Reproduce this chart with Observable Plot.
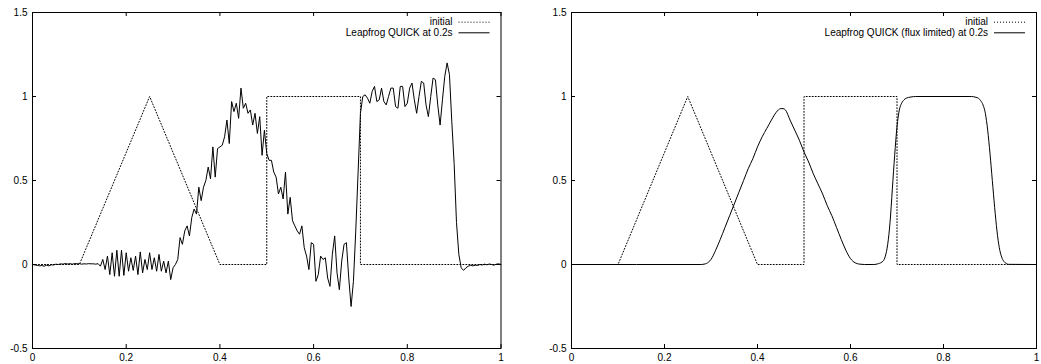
<!DOCTYPE html>
<html><head><meta charset="utf-8">
<script src="https://cdn.jsdelivr.net/npm/d3@7"></script>
<script src="https://cdn.jsdelivr.net/npm/@observablehq/plot@0.6"></script>
<style>
html,body{margin:0;padding:0;background:#fff;}
#wrap{position:relative;width:1041px;height:364px;overflow:hidden;}
.panel{position:absolute;top:0;}
</style></head><body>
<div id="wrap"><div id="p1" class="panel" style="left:0px"></div><div id="p2" class="panel" style="left:520px"></div></div>
<script>
// ---- data ----
const xTicks = [0, 0.2, 0.4, 0.6, 0.8, 1];
const yTicks = [-0.5, 0, 0.5, 1, 1.5];
const xTickLabels = ["0", "0.2", "0.4", "0.6", "0.8", "1"];
const yTickLabels = ["-0.5", "0", "0.5", "1", "1.5"];

const initialX = [0, 0.1, 0.25, 0.4, 0.5, 0.5, 0.7, 0.7, 1];
const initialY = [0, 0, 1, 0, 0, 1, 1, 0, 0];

// Leapfrog QUICK at 0.2s, cell spacing 0.005 (x = 0 .. 1)
const leapStep = 0.005;
const leapY = [
  0,-0.003,-0.005,-0.008,-0.006,-0.01,-0.004,-0.008,-0.002,-0.003,0.002,0,0.004,0.002,0.006,0.003,0.005,0.002,0.006,0.004,0.005,0.002,0.004,0.003,0.005,0.004,0.004,0.002,0.005,
  -0.01,0.03,-0.03,0.05,-0.06,0.07,-0.07,0.085,-0.07,0.085,-0.065,0.07,-0.04,0.04,-0.035,0.05,-0.06,0.075,-0.05,0.03,-0.03,0.07,-0.03,0.04,-0.04,0.06,-0.04,0.02,-0.05,0.02,-0.09,
  -0.02,0.0,0.03,0.16,0.12,0.20,0.23,0.17,0.28,0.33,0.30,0.46,0.38,0.46,0.50,0.58,0.51,0.70,0.52,0.69,
  0.70,0.71,0.76,0.86,0.72,0.97,0.91,0.96,0.87,1.05,0.93,0.96,0.90,0.92,0.83,0.90,0.78,0.88,0.65,0.80,
  0.66,0.62,0.62,0.55,0.52,0.42,0.46,0.39,0.55,0.30,0.40,0.26,0.23,0.20,0.18,0.23,0.10,0.05,-0.03,0.13,
  0.12,-0.10,-0.06,0.05,0.03,0.04,-0.08,-0.13,0.06,0.17,-0.05,-0.15,0.02,0.12,0.13,-0.08,-0.25,-0.1,0.2,0.55,
  0.9,1.0,1.01,0.99,0.96,1.03,1.06,0.97,0.98,1.05,0.97,0.95,1.0,1.05,1.05,0.94,0.93,1.06,1.06,0.94,
  0.96,1.05,1.08,0.98,0.90,1.0,1.09,1.08,0.95,0.88,1.0,1.11,1.10,0.95,0.83,0.98,1.12,1.20,1.13,0.85,
  0.6,0.25,0.06,-0.02,-0.035,-0.02,-0.01,-0.005,
  -0.008,-0.004,-0.006,0,-0.003,0.002,-0.002,0.003,0,-0.004,0.002,0.004,0
];

// Leapfrog QUICK (flux limited) at 0.2s
const fluxX = [0,0.28,0.285,0.29,0.295,0.30,0.305,0.31,0.32,0.33,0.34,0.35,0.36,0.37,0.38,0.39,0.40,0.41,0.42,0.43,0.44,0.45,0.455,0.46,0.47,0.48,0.49,0.50,0.51,0.52,0.53,0.54,0.55,0.56,0.57,0.58,0.59,0.60,0.61,0.62,0.63,0.65,0.66,0.67,0.675,0.68,0.685,0.69,0.695,0.70,0.705,0.71,0.715,0.72,0.73,0.74,0.86,0.87,0.875,0.88,0.885,0.89,0.895,0.90,0.905,0.91,0.915,0.92,0.925,0.93,0.935,0.94,1.0];
const fluxY = [0,0,0.002,0.006,0.015,0.03,0.055,0.085,0.15,0.22,0.29,0.36,0.43,0.50,0.57,0.63,0.70,0.76,0.81,0.86,0.905,0.928,0.928,0.92,0.86,0.80,0.74,0.67,0.61,0.54,0.48,0.42,0.35,0.29,0.22,0.15,0.085,0.035,0.01,0.002,0,0,0.005,0.02,0.05,0.12,0.25,0.45,0.65,0.82,0.92,0.96,0.98,0.99,0.997,1.0,1.0,0.995,0.99,0.975,0.95,0.9,0.8,0.66,0.5,0.34,0.2,0.1,0.045,0.018,0.006,0.001,0];

const legendLabels1 = ["initial", "Leapfrog QUICK at 0.2s"];
const legendLabels2 = ["initial", "Leapfrog QUICK (flux limited) at 0.2s"];

// ---- build tables ----
const initial = initialX.map((x, i) => ({x, y: initialY[i]}));
const leap = leapY.map((y, i) => ({x: +(i * leapStep).toFixed(4), y}));
const flux = fluxX.map((x, i) => ({x, y: fluxY[i]}));

const FONT = "'Liberation Sans', Arial, Helvetica, sans-serif";
const TICK = 4;

function legendMark(labels) {
  return (index, scales, values, dims) => {
    const R = dims.width - dims.marginRight;
    const g = d3.create("svg:g").attr("font-family", FONT).attr("font-size", 10);
    const rows = [
      {t: labels[0], dash: "1,2", y: dims.marginTop + 9.7},
      {t: labels[1], dash: null, y: dims.marginTop + 20.3}
    ];
    for (const r of rows) {
      g.append("text").attr("x", R - 48).attr("y", r.y).attr("dy", "0.35em")
        .attr("text-anchor", "end").attr("fill", "black").text(r.t);
      const ln = g.append("line").attr("x1", R - 42).attr("x2", R - 11)
        .attr("y1", r.y + 0.5).attr("y2", r.y + 0.5).attr("stroke", "black").attr("stroke-width", 1);
      if (r.dash) ln.attr("stroke-dasharray", r.dash);
    }
    return g.node();
  };
}

function panel(el, width, marginLeft, marginRight, series, curve, labels) {
  const marginTop = 12, marginBottom = 16, height = 364;
  const innerW = width - marginLeft - marginRight;
  const innerH = height - marginTop - marginBottom;
  const chart = Plot.plot({
    width, height, marginTop, marginBottom, marginLeft, marginRight,
    style: {fontFamily: FONT, fontSize: "10px", color: "black", background: "white", overflow: "visible"},
    x: {domain: [0, 1]},
    y: {domain: [-0.5, 1.5]},
    marks: [
      Plot.line(initial, {x: "x", y: "y", stroke: "black", strokeWidth: 1, strokeDasharray: "1,2"}),
      Plot.line(series, {x: "x", y: "y", stroke: "black", strokeWidth: 1, curve}),
      Plot.frame({stroke: "black"}),
      // inward ticks on all four sides
      Plot.tickX(xTicks, {x: d => d, stroke: "black", insetTop: innerH - TICK}),
      Plot.tickX(xTicks, {x: d => d, stroke: "black", insetBottom: innerH - TICK}),
      Plot.tickY(yTicks, {y: d => d, stroke: "black", insetRight: innerW - TICK}),
      Plot.tickY(yTicks, {y: d => d, stroke: "black", insetLeft: innerW - TICK}),
      Plot.axisX({ticks: xTicks, tickSize: 0, tickPadding: 5, label: null,
        tickFormat: d => xTickLabels[xTicks.indexOf(d)]}),
      Plot.axisY({ticks: yTicks, tickSize: 0, tickPadding: 5, label: null,
        tickFormat: d => yTickLabels[yTicks.indexOf(d)]}),
      legendMark(labels)
    ]
  });
  document.getElementById(el).appendChild(chart);
}

panel("p1", 520, 32, 19.5, leap, "linear", legendLabels1);
panel("p2", 521, 51, 5, flux, "monotone-x", legendLabels2);
</script>
</body></html>
